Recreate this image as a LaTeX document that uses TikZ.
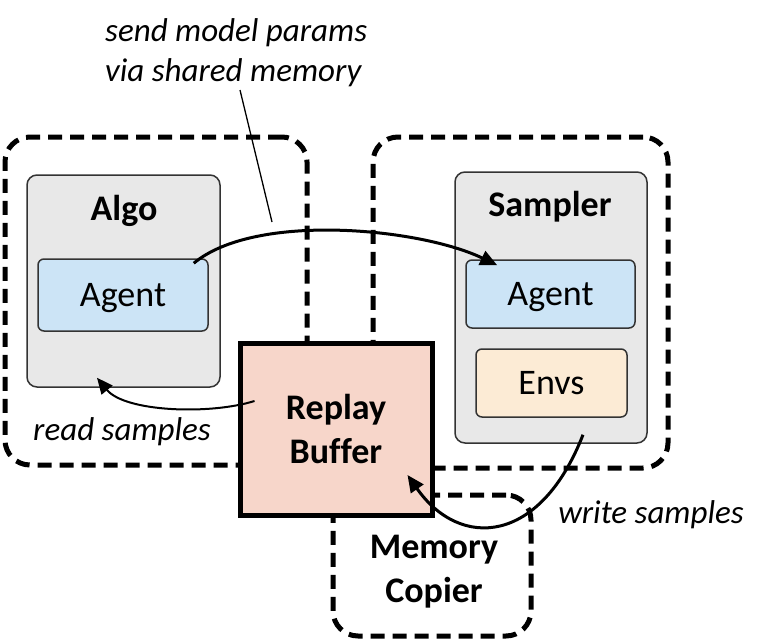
\documentclass[tikz,border=0pt]{standalone}
\usepackage{fontspec}
\setmainfont{Carlito}[Ligatures=NoCommon]
\usetikzlibrary{arrows.meta}
\definecolor{boxgray}{HTML}{E8E8E8}
\definecolor{boxedge}{HTML}{333333}
\definecolor{agentblue}{HTML}{CCE4F6}
\definecolor{envpeach}{HTML}{FCEBD5}
\definecolor{replayfill}{HTML}{F7D6CA}
\tikzset{
  group/.style={draw=black, line width=5pt, dash pattern=on 14pt off 8pt, rounded corners=25pt, inner sep=0pt},
  graybox/.style={draw=boxedge, fill=boxgray, line width=1.5pt, rounded corners=10pt, inner sep=0pt},
  innerbox/.style={draw=boxedge, line width=1.5pt, rounded corners=6pt, inner sep=0pt, text height=23pt, text depth=0pt, font=\fontsize{36}{44}\selectfont},
  replay/.style={draw=black, fill=replayfill, line width=5pt, inner sep=0pt},
  boldlbl/.style={font=\fontsize{36}{44}\selectfont\bfseries, inner sep=0pt, align=center},
  itlbl/.style={font=\fontsize{33}{40}\selectfont\itshape, inner sep=0pt},
  flow/.style={line width=3pt, -{Triangle[length=17pt,width=15pt]}},
}
\begin{document}
\begin{tikzpicture}[x=1pt,y=-1pt]
\useasboundingbox (0,0) rectangle (766,642);
% dashed groups
\node[group, minimum width=302pt, minimum height=328pt] (leftgrp) at (156,301) {};
\node[group, minimum width=295pt, minimum height=331pt] (rightgrp) at (520.5,302.5) {};
\node[group, minimum width=198pt, minimum height=141pt] (memgrp) at (432,565.5) {};
% Algo
\node[graybox, minimum width=193pt, minimum height=212pt] (algo) at (123.5,281) {};
\node[boldlbl, anchor=base] (algolbl) at (124,220) {Algo};
\node[innerbox, fill=agentblue, minimum width=170pt, minimum height=72pt] (aagent) at (123,295) {Agent};
% Sampler
\node[graybox, minimum width=192pt, minimum height=271pt] (sampler) at (551,307.5) {};
\node[boldlbl, anchor=base] (samplerlbl) at (550,216) {Sampler};
\node[innerbox, fill=agentblue, minimum width=169pt, minimum height=68pt] (sagent) at (550.5,294) {Agent};
\node[innerbox, fill=envpeach, minimum width=151pt, minimum height=68pt] (envs) at (551.5,383) {Envs};
% Replay buffer
\node[replay, minimum width=192pt, minimum height=172pt] (rb) at (336,429) {};
\node[boldlbl] (rblbl) at (336,428.5) {Replay\\Buffer};
% Memory copier label
\node[boldlbl] (memlbl) at (434,571.5) {Memory\\Copier};
% labels
\node[itlbl, anchor=west, align=left] (sendlbl) at (105,53) {send model params\\via shared memory};
\node[itlbl, anchor=base] (readlbl) at (122,440) {read samples};
\node[itlbl, anchor=base] (writelbl) at (651,523) {write samples};
% connectors
\draw[flow] ([xshift=-15pt,yshift=-5pt]aagent.north east) .. controls (255,212) and (420,228) .. ([xshift=32pt,yshift=-6pt]sagent.north west);
\draw[line width=2pt, -{Triangle[length=16pt,width=14pt]}] ([xshift=17pt,yshift=28pt]rb.west) .. controls (210,415) and (125,412) .. ([xshift=-26.5pt,yshift=10pt]algo.south);
\draw[flow] ([xshift=32pt,yshift=9pt]sampler.south) .. controls (540,545) and (460,550) .. ([xshift=-27pt,yshift=-46pt]rb.east);
\coordinate (annA) at (240,90);
\coordinate (annB) at (272,222);
\draw[line width=1.3pt] (annA) -- (annB);
\end{tikzpicture}
\end{document}
